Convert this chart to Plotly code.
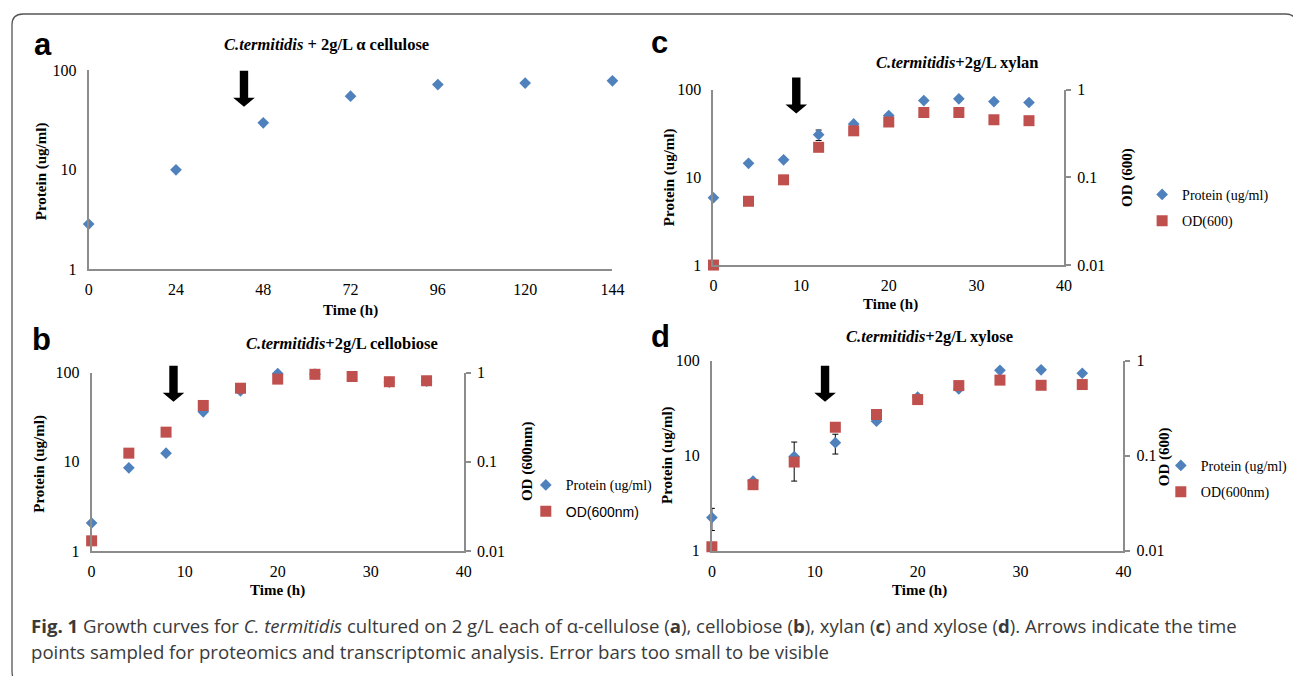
import math
import plotly.graph_objects as go

W, H = 1293, 676

# ---------------- data ----------------
time_a = [0, 24, 48, 72, 96, 120, 144]
protein_a = [2.85, 10.0, 29.7, 55.0, 72.0, 74.5, 78.5]

time_bcd = [0, 4, 8, 12, 16, 20, 24, 28, 32, 36]

protein_b = [2.06, 8.55, 12.5, 36.3, 62.5, 97.5, 96.0, 101.0, 78.0, 80.0]
od_b = [0.013, 0.125, 0.215, 0.428, 0.668, 0.845, 0.957, 0.904, 0.79, 0.81]

protein_c = [5.87, 14.5, 15.9, 30.8, 40.9, 51.0, 75.6, 79.0, 73.6, 71.8]
protein_c_err_plus = [None, None, None, 4.0, None, None, None, None, None, None]
protein_c_err_minus = [None, None, None, 4.4, None, None, None, None, None, None]
od_c = [0.01, 0.0535, 0.094, 0.221, 0.341, 0.43, 0.552, 0.552, 0.456, 0.445]

protein_d = [2.23, 5.4, 9.8, 13.7, 23.0, 41.4, 50.4, 79.0, 80.0, 73.6]
protein_d_err_plus = [0.56, None, 4.1, 3.1, None, None, None, None, None, None]
protein_d_err_minus = [0.6, None, 4.4, 3.3, None, None, None, None, None, None]
od_d = [0.011, 0.0495, 0.0857, 0.199, 0.271, 0.389, 0.546, 0.623, 0.55, 0.56]

# sampling arrows: time point and protein level at arrow tip
arrow_time = [42.7, 8.8, 9.45, 11.0]
arrow_tip_protein = [43.0, 47.0, 53.8, 36.8]

left_ticks = [1, 10, 100]
left_ticktext = ["1", "10", "100"]
right_ticks = [0.01, 0.1, 1]
right_ticktext = ["0.01", "0.1", "1"]

# ---------------- style ----------------
SERIF = "Liberation Serif, Times New Roman, serif"
SANS = "Liberation Sans, Arial, sans-serif"
CAP = "Open Sans, sans-serif"
BLUE = "#4F81BD"
RED = "#C0504D"
AXC = "#8c8c8c"


def xd(x0, x1):
    return [x0 / W, x1 / W]


def yd(y0, y1):
    return [1 - y1 / H, 1 - y0 / H]


def px(x):
    return x / W


def py(y):
    return 1 - y / H


fig = go.Figure()

diamond = dict(symbol="diamond", size=9, color=BLUE, line=dict(width=0))
square = dict(symbol="square", size=11, color=RED, line=dict(width=0))
err_style = dict(type="data", symmetric=False, color="black", thickness=1, width=3)

# panel a
fig.add_trace(go.Scatter(x=time_a, y=protein_a, mode="markers", marker=diamond,
                         xaxis="x", yaxis="y", showlegend=False, cliponaxis=False))
# panel b
fig.add_trace(go.Scatter(x=time_bcd, y=protein_b, mode="markers", marker=diamond,
                         xaxis="x2", yaxis="y2", name="Protein (ug/ml)",
                         legend="legend", legendgroup="pb", cliponaxis=False))
fig.add_trace(go.Scatter(x=time_bcd, y=od_b, mode="markers", marker=square,
                         xaxis="x2", yaxis="y3",
                         name="<span style='font-family:Liberation Sans, Arial'>OD(600nm)</span>",
                         legend="legend", legendgroup="ob", cliponaxis=False))
# panel c
fig.add_trace(go.Scatter(x=time_bcd, y=protein_c, mode="markers", marker=diamond,
                         error_y=dict(array=protein_c_err_plus, arrayminus=protein_c_err_minus, **err_style),
                         xaxis="x3", yaxis="y4", name="Protein (ug/ml)",
                         legend="legend2", legendgroup="pc", cliponaxis=False))
fig.add_trace(go.Scatter(x=time_bcd, y=od_c, mode="markers", marker=square,
                         xaxis="x3", yaxis="y5", name="OD(600)",
                         legend="legend2", legendgroup="oc", cliponaxis=False))
# panel d
fig.add_trace(go.Scatter(x=time_bcd, y=protein_d, mode="markers", marker=diamond,
                         error_y=dict(array=protein_d_err_plus, arrayminus=protein_d_err_minus, **err_style),
                         xaxis="x4", yaxis="y6", name="Protein (ug/ml)",
                         legend="legend3", legendgroup="pd", cliponaxis=False))
fig.add_trace(go.Scatter(x=time_bcd, y=od_d, mode="markers", marker=square,
                         xaxis="x4", yaxis="y7", name="OD(600nm)",
                         legend="legend3", legendgroup="od", cliponaxis=False))

tickfont = dict(family=SERIF, size=16, color="black")


def xaxis(dom, rng, dtick, anchor):
    return dict(domain=dom, range=rng, dtick=dtick, anchor=anchor, showgrid=False, zeroline=False,
                showline=True, linecolor=AXC, linewidth=2, ticks="", tickfont=tickfont,
                ticklabelstandoff=5, fixedrange=True)


def yleft(dom, anchor):
    return dict(domain=dom, type="log", range=[0, 2], anchor=anchor, showgrid=False, zeroline=False,
                showline=True, linecolor=AXC, linewidth=2, ticks="", tickvals=left_ticks,
                ticktext=left_ticktext, tickfont=tickfont, ticklabelstandoff=7, fixedrange=True)


def yright(base, anchor):
    return dict(type="log", range=[-2, 0], overlaying=base, side="right", anchor=anchor,
                showgrid=False, zeroline=False, showline=True, linecolor=AXC, linewidth=2,
                ticks="outside", ticklen=5, tickcolor=AXC, tickwidth=1.5, tickvals=right_ticks,
                ticktext=right_ticktext, tickfont=tickfont, ticklabelstandoff=3, fixedrange=True)


A = dict(x=(86, 618), y=(64, 268))
B = dict(x=(89, 467), y=(374, 557))
C = dict(x=(720.6, 1076.7), y=(84, 263.7))
D = dict(x=(719, 1137), y=(361.7, 556.7))

legend_font = dict(family=SERIF, size=14, color="black")


def legend(x, y):
    return dict(x=px(x), y=py(y), xanchor="left", yanchor="middle", font=legend_font,
                bgcolor="rgba(0,0,0,0)", borderwidth=0, itemwidth=30, traceorder="grouped",
                tracegroupgap=5, itemclick=False, itemdoubleclick=False)


fig.update_layout(
    width=W, height=H, margin=dict(l=0, r=0, t=0, b=0),
    paper_bgcolor="white", plot_bgcolor="white",
    xaxis=xaxis(xd(*A["x"]), [0, 144], 24, "y"),
    yaxis=yleft(yd(*A["y"]), "x"),
    xaxis2=xaxis(xd(*B["x"]), [0, 40], 10, "y2"),
    yaxis2=yleft(yd(*B["y"]), "x2"),
    yaxis3=yright("y2", "x2"),
    xaxis3=xaxis(xd(*C["x"]), [0, 40], 10, "y4"),
    yaxis4=yleft(yd(*C["y"]), "x3"),
    yaxis5=yright("y4", "x3"),
    xaxis4=xaxis(xd(*D["x"]), [0, 40], 10, "y6"),
    yaxis6=yleft(yd(*D["y"]), "x4"),
    yaxis7=yright("y6", "x4"),
    legend=legend(530, 503),
    legend2=legend(1156, 205),
    legend3=legend(1175, 483),
    showlegend=True,
)

ann = []


def text(x, y, s, size, family=SERIF, angle=0, color="black", xanchor="center"):
    ann.append(dict(x=px(x), y=py(y), xref="paper", yref="paper", text=s, showarrow=False,
                    font=dict(family=family, size=size, color=color), textangle=angle,
                    xanchor=xanchor, yanchor="middle"))


# panel letters
text(40, 37, "<b>a</b>", 31, SANS)
text(38, 340, "<b>b</b>", 31, SANS)
text(666, 35, "<b>c</b>", 31, SANS)
text(667, 337, "<b>d</b>", 31, SANS)

# titles
text(328, 37, "<b><i>C.termitidis</i> + 2g/L α cellulose</b>", 16.5)
text(343, 344, "<b><i>C.termitidis</i>+2g/L cellobiose</b>", 16.5)
text(968, 56, "<b><i>C.termitidis</i>+2g/L xylan</b>", 16.5)
text(940, 337, "<b><i>C.termitidis</i>+2g/L xylose</b>", 16.5)

# axis titles
text(38, 167, "<b>Protein (ug/ml)</b>", 15, angle=-90)
text(36, 467, "<b>Protein (ug/ml)</b>", 15, angle=-90)
text(676, 174, "<b>Protein (ug/ml)</b>", 15, angle=-90)
text(674, 459, "<b>Protein (ug/ml)</b>", 15, angle=-90)
text(532, 465, "<b>OD (600nm)</b>", 15, angle=-90)
text(1141, 174, "<b>OD (600)</b>", 15, angle=-90)
text(1179, 460, "<b>OD (600)</b>", 15, angle=-90)
text(352, 310, "<b>Time (h)</b>", 15)
text(278, 598, "<b>Time (h)</b>", 15)
text(900, 304, "<b>Time (h)</b>", 15)
text(930, 598, "<b>Time (h)</b>", 15)

# caption
text(25, 633, "<b>Fig. 1</b> Growth curves for <i>C. termitidis</i> cultured on 2 g/L each of "
     "α-cellulose (<b>a</b>), cellobiose (<b>b</b>), xylan (<b>c</b>) and xylose (<b>d</b>). "
     "Arrows indicate the time", 18.6, CAP, color="#3a3a3a", xanchor="left")
text(25, 660, "points sampled for proteomics and transcriptomic analysis. Error bars too small to be visible",
     18.6, CAP, color="#3a3a3a", xanchor="left")

fig.update_layout(annotations=ann)

# arrows (block arrows, pixel sized, anchored at time point / protein level)
arrow_path = "M0,0 L-10.8,9 L-4.2,9 L-4.2,36 L4.2,36 L4.2,9 L10.8,9 Z"
xrefs = ["x", "x2", "x3", "x4"]
yrefs = ["y domain", "y2 domain", "y4 domain", "y6 domain"]
shapes = []
for t, v, xr, yr in zip(arrow_time, arrow_tip_protein, xrefs, yrefs):
    shapes.append(dict(type="path", xref=xr, yref=yr, xsizemode="pixel", ysizemode="pixel",
                       xanchor=t, yanchor=math.log10(v) / 2, path=arrow_path,
                       fillcolor="black", line=dict(width=0)))

# figure frame
shapes.append(dict(type="path", xref="paper", yref="paper", xsizemode="pixel", ysizemode="pixel",
                   xanchor=0, yanchor=1,
                   path="M12,-674 Q8,-672 8,-662 L8,-17 Q8,-6 19,-6 L1282,-6 Q1291,-6 1293,-15",
                   line=dict(color="#555555", width=1.3), fillcolor="rgba(0,0,0,0)"))
fig.update_layout(shapes=shapes)

fig.write_html("out.html", config={"displayModeBar": False},
               post_script="document.body.style.margin='0px';document.body.style.overflow='hidden';")
